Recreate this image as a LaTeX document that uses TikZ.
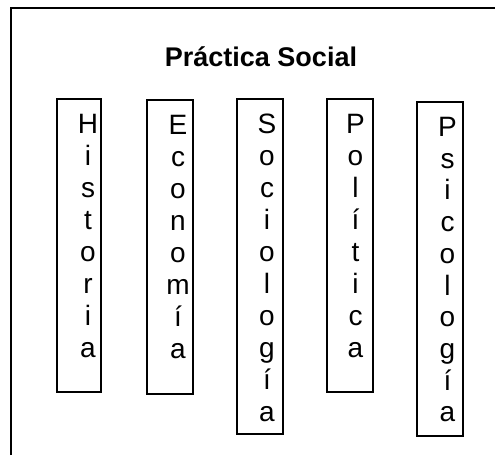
\documentclass[tikz,border=0pt]{standalone}
\usepackage{fontspec}
\setmainfont{Liberation Sans}
\tikzset{
  colbox/.style = {draw = black, line width = 2pt, inner sep = 0pt},
  letter/.style = {anchor = base, inner sep = 0pt, font = \fontsize{28}{32}\selectfont},
  title/.style = {anchor = base, inner sep = 0pt, font = \bfseries\fontsize{27}{31}\selectfont}
}
\begin{document}
\begin{tikzpicture}[x = 1pt, y = -1pt]
\useasboundingbox (0,0) rectangle (495,455);
\pgfmathsetmacro\gap{32};
\draw [line width = 2pt] (11,455) -- (11,7.5) -- (495,7.5);
\node[title] (practica) at (261,66.5) {Práctica Social};
\node[colbox, minimum width = 44pt, minimum height = 292.4pt] (historia) at (79,245.5) {};
\node[colbox, minimum width = 45.7pt, minimum height = 294pt] (economia) at (170.2,247) {};
\node[colbox, minimum width = 46.6pt, minimum height = 334.7pt] (sociologia) at (260,266.7) {};
\node[colbox, minimum width = 46pt, minimum height = 292.4pt] (politica) at (349.7,245.5) {};
\node[colbox, minimum width = 46pt, minimum height = 334.3pt] (psicologia) at (439.7,268.8) {};
\foreach \l [count = \i] in {H,i,s,t,o,r,i,a} \node[letter] (hist\i) at ({88},{133.8+\gap*(\i-1)}) {\l};
\foreach \l [count = \i] in {E,c,o,n,o,m,í,a} \node[letter] (econ\i) at ({178},{134+\gap*(\i-1)}) {\l};
\foreach \l [count = \i] in {S,o,c,i,o,l,o,g,í,a} \node[letter] (soci\i) at ({267},{133.5+\gap*(\i-1)}) {\l};
\foreach \l [count = \i] in {P,o,l,í,t,i,c,a} \node[letter] (poli\i) at ({355.5},{133.5+\gap*(\i-1)}) {\l};
\foreach \l [count = \i] in {P,s,i,c,o,l,o,g,í,a} \node[letter] (psic\i) at ({447.5},{136.5+31.7*(\i-1)}) {\l};
\end{tikzpicture}
\end{document}
